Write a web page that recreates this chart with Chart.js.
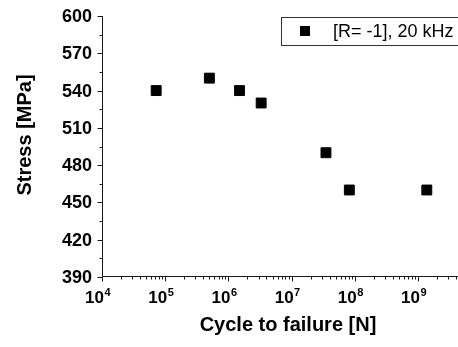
<!DOCTYPE html>
<html>
<head>
<meta charset="utf-8">
<script src="https://cdn.jsdelivr.net/npm/chart.js@4/dist/chart.umd.min.js"></script>
<style>
  html, body { margin: 0; padding: 0; background: #fff; }
  #wrap { width: 458px; height: 347px; }
</style>
</head>
<body>
<div id="wrap"><canvas id="sn" width="458" height="347"></canvas></div>
<script>
// S-N data
const seriesLabel = '[R= -1], 20 kHz';
const cycles = [7.2e4, 5.0e5, 1.5e6, 3.3e6, 3.5e7, 8.2e7, 1.38e9];
const stress = [540, 550, 540, 530, 490, 460, 460];

// axis ticks
const yTicks = [390, 420, 450, 480, 510, 540, 570, 600];
const xExponents = [4, 5, 6, 7, 8, 9];
const xMin = 1e4;
const xMax = 4.3e9;

const INK = '#1a1a1a';
const FONT = '"Liberation Sans", Arial, sans-serif';

// draws axis lines, ticks, labels, titles and the legend box
const axesPlugin = {
    id: 'originAxes',
    afterDraw(chart) {
        const ctx = chart.ctx;
        const xs = chart.scales.x;
        const ys = chart.scales.y;
        const area = chart.chartArea;
        const left = Math.round(area.left) + 0.5;
        const bottom = Math.round(area.bottom) - 0.5;

        ctx.save();
        ctx.strokeStyle = INK;
        ctx.lineWidth = 1;

        // axis lines
        ctx.beginPath();
        ctx.moveTo(left, area.top);
        ctx.lineTo(left, bottom);
        ctx.lineTo(area.right, bottom);
        ctx.stroke();

        // y ticks (major + half-step minor)
        ctx.beginPath();
        yTicks.forEach((v, i) => {
            const py = Math.round(ys.getPixelForValue(v)) + 0.5;
            ctx.moveTo(left - 5, py);
            ctx.lineTo(left, py);
            if (i < yTicks.length - 1) {
                const mid = (v + yTicks[i + 1]) / 2;
                const pm = Math.round(ys.getPixelForValue(mid)) + 0.5;
                ctx.moveTo(left - 3, pm);
                ctx.lineTo(left, pm);
            }
        });
        // x ticks (decades + 2..9 minors)
        xExponents.forEach(e => {
            for (let k = 1; k <= 9; k++) {
                const v = k * Math.pow(10, e);
                if (v > xMax) break;
                const px = Math.round(xs.getPixelForValue(v)) + 0.5;
                ctx.moveTo(px, bottom);
                ctx.lineTo(px, bottom + (k === 1 ? 5 : 3));
            }
        });
        ctx.stroke();

        ctx.fillStyle = '#000';

        // y tick labels
        ctx.font = 'bold 18px ' + FONT;
        ctx.textAlign = 'right';
        ctx.textBaseline = 'middle';
        yTicks.forEach(v => {
            ctx.fillText(String(v), 92, ys.getPixelForValue(v) + 1);
        });

        // x tick labels as 10^n
        ctx.textBaseline = 'alphabetic';
        xExponents.forEach(e => {
            const px = xs.getPixelForValue(Math.pow(10, e));
            ctx.font = 'bold 17px ' + FONT;
            ctx.textAlign = 'right';
            ctx.fillText('10', px + 2, 303);
            ctx.font = 'bold 11px ' + FONT;
            ctx.textAlign = 'left';
            ctx.fillText(String(e), px + 2.5, 296);
        });

        // axis titles
        ctx.font = 'bold 20px ' + FONT;
        ctx.textAlign = 'center';
        ctx.textBaseline = 'middle';
        ctx.fillText('Cycle to failure [N]', 288, 325);
        ctx.save();
        ctx.translate(25, 135);
        ctx.rotate(-Math.PI / 2);
        ctx.fillText('Stress [MPa]', 0, 0);
        ctx.restore();

        // legend box
        ctx.strokeStyle = '#333';
        ctx.strokeRect(281.5, 17.5, 200, 28);
        ctx.fillStyle = '#000';
        ctx.fillRect(300, 26, 10, 10);
        ctx.font = '18px ' + FONT;
        ctx.textAlign = 'left';
        ctx.textBaseline = 'middle';
        ctx.fillText(chart.data.datasets[0].label, 333, 32);

        ctx.restore();
    }
};

const ctx = document.getElementById('sn').getContext('2d');
const snChart = new Chart(ctx, {
    type: 'scatter',
    data: {
        datasets: [{
            label: seriesLabel,
            data: cycles.map((c, i) => ({ x: c, y: stress[i] })),
            pointStyle: 'rect',
            pointRadius: 7,
            pointHoverRadius: 7,
            backgroundColor: '#000',
            borderColor: '#000',
            borderWidth: 1
        }]
    },
    options: {
        responsive: false,
        animation: false,
        devicePixelRatio: 1,
        layout: { autoPadding: false, padding: { left: 102, top: 16, right: 0, bottom: 70 } },
        plugins: {
            legend: { display: false },
            tooltip: { enabled: false }
        },
        scales: {
            x: { type: 'logarithmic', min: xMin, max: xMax, display: false },
            y: { type: 'linear', min: 390, max: 600, display: false }
        }
    },
    plugins: [axesPlugin]
});
</script>
</body>
</html>
